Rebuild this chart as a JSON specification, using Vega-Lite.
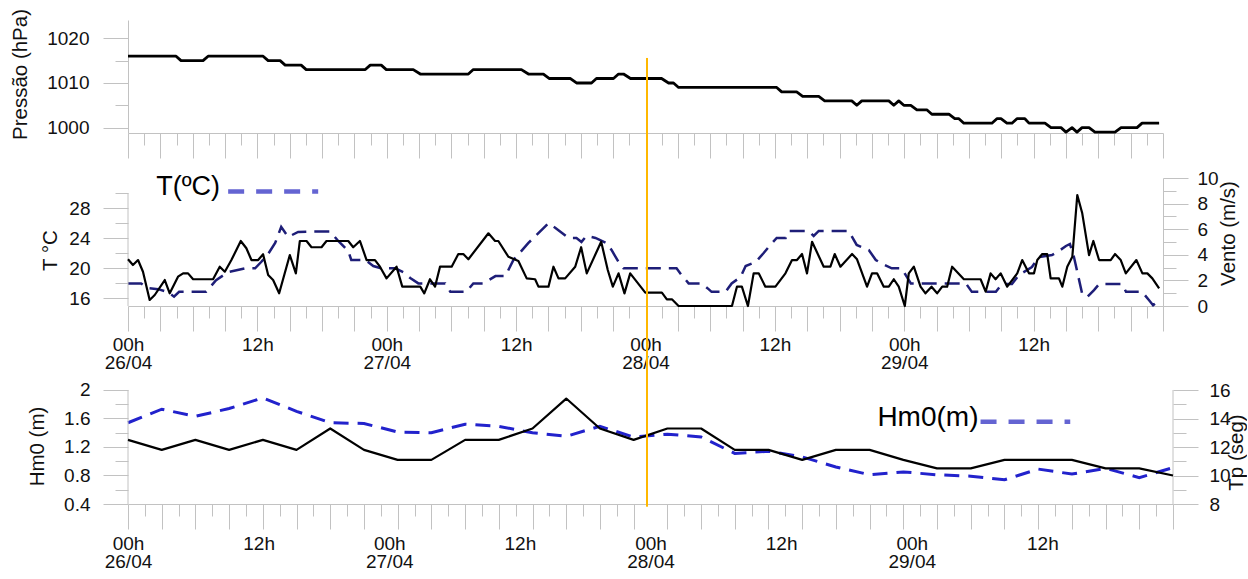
{
  "$schema": "https://vega.github.io/schema/vega-lite/v6.json",
  "background": "white",
  "padding": {"left": 10, "top": 8, "right": 0, "bottom": 0},
  "config": {
    "view": {"stroke": null},
    "font": "Liberation Sans",
    "axis": {
      "domainColor": "#c2c2c2", "tickColor": "#c2c2c2", "tickWidth": 1, "domainWidth": 1,
      "labelFont": "Liberation Sans", "labelFontSize": 19, "labelColor": "#111111",
      "titleFont": "Liberation Sans", "titleFontSize": 20.5, "titleFontWeight": "normal", "titleColor": "#111111",
      "grid": false, "labelOverlap": false, "labelFlush": false, "labelBound": false
    }
  },
  "datasets": {
    "pressure": [{"h":0,"p":1016},{"h":4.46,"p":1016},{"h":4.92,"p":1015},{"h":6.96,"p":1015},{"h":7.43,"p":1016},{"h":12.53,"p":1016},{"h":13.0,"p":1015},{"h":14.11,"p":1015},{"h":14.58,"p":1014},{"h":16.06,"p":1014},{"h":16.53,"p":1013},{"h":22.01,"p":1013},{"h":22.47,"p":1014},{"h":23.49,"p":1014},{"h":23.96,"p":1013},{"h":26.46,"p":1013},{"h":27.11,"p":1012},{"h":31.57,"p":1012},{"h":32.03,"p":1013},{"h":36.49,"p":1013},{"h":37.14,"p":1012},{"h":38.53,"p":1012},{"h":39.09,"p":1011},{"h":41.04,"p":1011},{"h":41.6,"p":1010},{"h":42.99,"p":1010},{"h":43.45,"p":1011},{"h":45.03,"p":1011},{"h":45.5,"p":1012},{"h":45.96,"p":1012},{"h":46.61,"p":1011},{"h":49.49,"p":1011},{"h":50.14,"p":1010},{"h":50.6,"p":1010},{"h":51.07,"p":1009},{"h":60.17,"p":1009},{"h":60.63,"p":1008},{"h":62.02,"p":1008},{"h":62.58,"p":1007},{"h":64.07,"p":1007},{"h":64.62,"p":1006},{"h":67.13,"p":1006},{"h":67.6,"p":1005},{"h":68.06,"p":1006},{"h":70.57,"p":1006},{"h":71.03,"p":1005},{"h":71.49,"p":1006},{"h":71.96,"p":1005},{"h":72.61,"p":1005},{"h":73.17,"p":1004},{"h":74.09,"p":1004},{"h":74.56,"p":1003},{"h":76.14,"p":1003},{"h":76.69,"p":1002},{"h":77.07,"p":1002},{"h":77.53,"p":1001},{"h":80.13,"p":1001},{"h":80.59,"p":1002},{"h":80.97,"p":1002},{"h":81.52,"p":1001},{"h":81.99,"p":1001},{"h":82.45,"p":1002},{"h":83.19,"p":1002},{"h":83.57,"p":1001},{"h":85.05,"p":1001},{"h":85.61,"p":1000},{"h":86.54,"p":1000},{"h":87.0,"p":999},{"h":87.56,"p":1000},{"h":88.02,"p":999},{"h":88.49,"p":1000},{"h":89.14,"p":1000},{"h":89.69,"p":999},{"h":91.55,"p":999},{"h":92.11,"p":1000},{"h":93.59,"p":1000},{"h":94.06,"p":1001},{"h":95.64,"p":1001}],
    "temp": [{"h":0,"T":18.0},{"h":1.21,"T":18.0},{"h":1.86,"T":17.37},{"h":2.79,"T":17.24},{"h":3.71,"T":16.84},{"h":4.27,"T":16.24},{"h":4.74,"T":16.88},{"h":7.24,"T":16.88},{"h":8.17,"T":18.44},{"h":9.29,"T":19.51},{"h":10.86,"T":20.0},{"h":11.79,"T":20.0},{"h":12.35,"T":20.84},{"h":13.0,"T":21.91},{"h":13.65,"T":23.37},{"h":14.21,"T":25.51},{"h":14.86,"T":24.17},{"h":15.78,"T":24.84},{"h":16.99,"T":24.88},{"h":18.76,"T":24.88},{"h":19.5,"T":23.64},{"h":20.43,"T":22.31},{"h":20.71,"T":21.11},{"h":22.01,"T":21.11},{"h":22.75,"T":20.31},{"h":23.49,"T":20.0},{"h":24.79,"T":20.0},{"h":25.53,"T":19.51},{"h":26.18,"T":18.71},{"h":26.93,"T":18.0},{"h":29.43,"T":18.0},{"h":29.9,"T":16.88},{"h":31.38,"T":16.88},{"h":32.03,"T":18.0},{"h":32.96,"T":18.0},{"h":34.08,"T":18.97},{"h":35.0,"T":18.97},{"h":35.75,"T":21.11},{"h":37.14,"T":23.37},{"h":39.0,"T":26.0},{"h":39.65,"T":25.37},{"h":40.85,"T":24.04},{"h":41.6,"T":24.04},{"h":42.06,"T":23.51},{"h":42.53,"T":24.31},{"h":43.36,"T":24.04},{"h":44.38,"T":23.37},{"h":44.85,"T":22.44},{"h":45.5,"T":20.84},{"h":45.96,"T":20.0},{"h":50.88,"T":20.0},{"h":51.35,"T":19.11},{"h":52.0,"T":18.0},{"h":53.2,"T":18.0},{"h":53.85,"T":17.24},{"h":54.13,"T":16.88},{"h":55.43,"T":16.88},{"h":55.99,"T":18.0},{"h":56.82,"T":18.84},{"h":57.29,"T":20.31},{"h":58.22,"T":20.84},{"h":58.96,"T":22.04},{"h":59.42,"T":22.84},{"h":60.17,"T":24.04},{"h":61.0,"T":24.04},{"h":61.28,"T":24.97},{"h":63.14,"T":24.97},{"h":63.6,"T":24.31},{"h":64.07,"T":24.97},{"h":66.85,"T":24.97},{"h":67.59,"T":23.11},{"h":68.24,"T":22.71},{"h":68.71,"T":22.44},{"h":69.36,"T":21.11},{"h":69.82,"T":20.71},{"h":70.84,"T":20.0},{"h":71.77,"T":20.0},{"h":72.14,"T":19.11},{"h":72.61,"T":18.0},{"h":77.72,"T":18.0},{"h":78.27,"T":16.88},{"h":80.5,"T":16.88},{"h":81.06,"T":17.91},{"h":81.99,"T":17.91},{"h":82.64,"T":19.11},{"h":83.84,"T":20.17},{"h":84.49,"T":21.51},{"h":85.7,"T":21.77},{"h":86.35,"T":22.31},{"h":87.0,"T":22.97},{"h":87.37,"T":23.24},{"h":87.74,"T":21.51},{"h":88.49,"T":16.71},{"h":88.95,"T":16.17},{"h":89.6,"T":17.11},{"h":90.07,"T":17.91},{"h":92.2,"T":17.91},{"h":92.57,"T":16.88},{"h":94.06,"T":16.88},{"h":94.71,"T":15.77},{"h":95.08,"T":15.11},{"h":95.64,"T":15.77}],
    "wind": [{"h":0,"W":3.65},{"h":0.46,"W":3.2},{"h":0.93,"W":3.59},{"h":1.39,"W":2.68},{"h":2.01,"W":0.47},{"h":2.48,"W":0.86},{"h":3.41,"W":2.03},{"h":3.87,"W":0.99},{"h":4.64,"W":2.29},{"h":5.11,"W":2.55},{"h":5.57,"W":2.55},{"h":6.04,"W":2.09},{"h":7.89,"W":2.09},{"h":8.51,"W":3.07},{"h":8.98,"W":2.68},{"h":9.59,"W":3.59},{"h":10.46,"W":5.08},{"h":10.98,"W":4.51},{"h":11.45,"W":3.59},{"h":12.07,"W":3.59},{"h":12.53,"W":4.04},{"h":13.0,"W":2.42},{"h":13.46,"W":2.03},{"h":14.02,"W":0.99},{"h":15.01,"W":3.98},{"h":15.57,"W":2.55},{"h":15.94,"W":5.08},{"h":16.56,"W":5.08},{"h":17.02,"W":4.59},{"h":17.95,"W":4.59},{"h":18.41,"W":5.08},{"h":20.43,"W":5.08},{"h":20.89,"W":4.59},{"h":21.51,"W":5.08},{"h":22.13,"W":3.59},{"h":22.91,"W":3.59},{"h":23.37,"W":3.07},{"h":23.98,"W":2.16},{"h":24.91,"W":3.07},{"h":25.44,"W":1.51},{"h":27.11,"W":1.51},{"h":27.48,"W":0.99},{"h":28.01,"W":2.09},{"h":28.48,"W":1.51},{"h":28.94,"W":3.07},{"h":30.02,"W":3.07},{"h":30.64,"W":4.06},{"h":31.1,"W":4.06},{"h":31.57,"W":3.65},{"h":33.43,"W":5.68},{"h":34.05,"W":5.08},{"h":34.35,"W":5.08},{"h":35.28,"W":3.85},{"h":36.21,"W":3.52},{"h":36.98,"W":2.16},{"h":37.76,"W":2.09},{"h":38.07,"W":1.51},{"h":39.0,"W":1.51},{"h":39.46,"W":3.07},{"h":39.93,"W":2.16},{"h":40.55,"W":2.16},{"h":41.48,"W":3.07},{"h":42.03,"W":4.59},{"h":42.55,"W":2.55},{"h":43.89,"W":5.02},{"h":44.5,"W":2.81},{"h":44.97,"W":1.51},{"h":45.5,"W":2.55},{"h":46.05,"W":0.99},{"h":46.58,"W":2.55},{"h":47.98,"W":1.04},{"h":49.52,"W":1.04},{"h":49.98,"W":0.52},{"h":50.45,"W":0.52},{"h":51.07,"W":0},{"h":56.02,"W":0},{"h":56.48,"W":1.51},{"h":56.94,"W":1.51},{"h":57.5,"W":0},{"h":58.03,"W":2.55},{"h":58.5,"W":2.55},{"h":59.12,"W":1.51},{"h":60.05,"W":1.51},{"h":60.98,"W":2.55},{"h":61.59,"W":3.59},{"h":62.05,"W":3.59},{"h":62.52,"W":4.06},{"h":62.98,"W":2.55},{"h":63.45,"W":5.02},{"h":64.53,"W":3.07},{"h":65.15,"W":3.07},{"h":65.55,"W":4.06},{"h":66.08,"W":3.07},{"h":67.16,"W":4.06},{"h":67.62,"W":3.65},{"h":68.55,"W":1.51},{"h":69.01,"W":2.55},{"h":69.48,"W":2.55},{"h":70.1,"W":1.51},{"h":70.57,"W":1.51},{"h":71.03,"W":2.09},{"h":71.49,"W":1.51},{"h":72.05,"W":0},{"h":72.42,"W":2.55},{"h":72.89,"W":3.07},{"h":73.51,"W":1.51},{"h":73.97,"W":0.99},{"h":74.53,"W":1.51},{"h":75.05,"W":0.99},{"h":75.52,"W":1.51},{"h":75.98,"W":1.51},{"h":76.44,"W":3.07},{"h":77.53,"W":2.09},{"h":79.08,"W":2.09},{"h":79.55,"W":1.12},{"h":80.01,"W":2.55},{"h":80.47,"W":2.09},{"h":80.94,"W":2.55},{"h":81.55,"W":1.51},{"h":82.48,"W":2.55},{"h":82.94,"W":3.59},{"h":83.57,"W":2.55},{"h":84.03,"W":2.55},{"h":84.34,"W":3.59},{"h":84.8,"W":4.06},{"h":85.26,"W":4.06},{"h":85.58,"W":2.16},{"h":86.35,"W":2.16},{"h":86.66,"W":1.51},{"h":87.12,"W":3.07},{"h":87.59,"W":3.85},{"h":88.05,"W":8.67},{"h":88.51,"W":7.24},{"h":89.14,"W":3.98},{"h":89.54,"W":5.08},{"h":90.07,"W":3.59},{"h":91.15,"W":3.59},{"h":91.55,"W":4.06},{"h":92.08,"W":3.59},{"h":92.55,"W":2.55},{"h":93.53,"W":3.59},{"h":94.09,"W":2.55},{"h":94.55,"W":2.55},{"h":95.01,"W":2.16},{"h":95.64,"W":1.38}],
    "waves": [{"h":0,"hm0":1.54,"tp":12.5},{"h":3.1,"hm0":1.73,"tp":11.8},{"h":6.19,"hm0":1.63,"tp":12.5},{"h":9.29,"hm0":1.74,"tp":11.8},{"h":12.39,"hm0":1.89,"tp":12.5},{"h":15.48,"hm0":1.7,"tp":11.8},{"h":18.58,"hm0":1.54,"tp":13.3},{"h":21.68,"hm0":1.53,"tp":11.8},{"h":24.77,"hm0":1.41,"tp":11.1},{"h":27.87,"hm0":1.4,"tp":11.1},{"h":30.97,"hm0":1.52,"tp":12.5},{"h":34.06,"hm0":1.49,"tp":12.5},{"h":37.16,"hm0":1.4,"tp":13.3},{"h":40.26,"hm0":1.35,"tp":15.4},{"h":43.35,"hm0":1.49,"tp":13.3},{"h":46.45,"hm0":1.34,"tp":12.5},{"h":49.55,"hm0":1.38,"tp":13.3},{"h":52.65,"hm0":1.34,"tp":13.3},{"h":55.74,"hm0":1.11,"tp":11.8},{"h":58.84,"hm0":1.14,"tp":11.8},{"h":61.94,"hm0":1.06,"tp":11.1},{"h":65.03,"hm0":0.92,"tp":11.8},{"h":68.13,"hm0":0.81,"tp":11.8},{"h":71.23,"hm0":0.85,"tp":11.1},{"h":74.32,"hm0":0.81,"tp":10.5},{"h":77.42,"hm0":0.79,"tp":10.5},{"h":80.52,"hm0":0.74,"tp":11.1},{"h":83.61,"hm0":0.89,"tp":11.1},{"h":86.71,"hm0":0.82,"tp":11.1},{"h":89.81,"hm0":0.9,"tp":10.5},{"h":92.9,"hm0":0.77,"tp":10.5},{"h":96.0,"hm0":0.91,"tp":10.0}]
  },
  "spacing": 45,
  "bounds": "flush",
  "vconcat": [
    {
      "width": 1035,
      "height": 113,
      "encoding": {
        "x": {
          "field": "h", "type": "quantitative",
          "scale": {"domain": [0, 96], "nice": false, "zero": false},
          "axis": {
            "values": [0,1.5,3,4.5,6,7.5,9,10.5,12,13.5,15,16.5,18,19.5,21,22.5,24,25.5,27,28.5,30,31.5,33,34.5,36,37.5,39,40.5,42,43.5,45,46.5,48,49.5,51,52.5,54,55.5,57,58.5,60,61.5,63,64.5,66,67.5,69,70.5,72,73.5,75,76.5,78,79.5,81,82.5,84,85.5,87,88.5,90,91.5,93,94.5,96],
            "labels": false, "title": null, "labelOverlap": false,
            "tickSize": {"condition": {"test": "datum.value % 3 != 0", "value": 12}, "value": 25}
          }
        },
        "y": {
          "field": "p", "type": "quantitative",
          "scale": {"domain": [998.8, 1024.1], "nice": false, "zero": false},
          "axis": {
            "values": [1000, 1005, 1010, 1015, 1020],
            "title": "Pressão (hPa)",
            "labelOverlap": false,
            "labelExpr": "datum.value % 10 == 0 ? format(datum.value, 'd') : ''",
            "tickSize": {"condition": {"test": "datum.value % 10 != 0", "value": 13}, "value": 25},
            "labelPadding": 14,
            "titleAngle": 270, "titleBaseline": "middle", "titleAlign": "center",
            "titleX": -108, "titleY": 54
          }
        }
      },
      "layer": [
        {
          "data": {"name": "pressure"},
          "mark": {"type": "line", "color": "#000000", "strokeWidth": 2.8, "strokeJoin": "round"}
        },
        {
          "data": {"values": [{"h": 48.14, "p": 1015.6, "p2": 988.7}]},
          "mark": {"type": "rule", "color": "#ffb800", "strokeWidth": 2},
          "encoding": {"y2": {"field": "p2"}}
        }
      ]
    },
    {
      "width": 1035,
      "height": 128,
      "encoding": {
        "x": {
          "field": "h", "type": "quantitative",
          "scale": {"domain": [0, 96], "nice": false, "zero": false},
          "axis": {
            "values": [0,1.5,3,4.5,6,7.5,9,10.5,12,13.5,15,16.5,18,19.5,21,22.5,24,25.5,27,28.5,30,31.5,33,34.5,36,37.5,39,40.5,42,43.5,45,46.5,48,49.5,51,52.5,54,55.5,57,58.5,60,61.5,63,64.5,66,67.5,69,70.5,72,73.5,75,76.5,78,79.5,81,82.5,84,85.5,87,88.5,90,91.5,93,94.5,96],
            "title": null,
            "labelOverlap": false,
            "labelPadding": 4,
            "labelLineHeight": 18.5,
            "labelExpr": "datum.value % 24 == 0 && datum.value < 96 ? ['00h', (26 + datum.value / 24) + '/04'] : (datum.value % 12 == 0 && datum.value < 96 ? '12h' : '')",
            "tickSize": {"condition": {"test": "datum.value % 3 != 0", "value": 12}, "value": 25}
          }
        }
      },
      "layer": [
        {
          "encoding": {
            "y": {
              "field": "T", "type": "quantitative",
              "scale": {"domain": [15, 32], "nice": false, "zero": false},
              "axis": {
                "values": [16, 18, 20, 22, 24, 26, 28, 30],
                "domain": false,
                "title": "T °C",
                "labelOverlap": false,
                "labelExpr": "datum.value % 4 == 0 ? datum.label : ''",
                "tickSize": {"condition": {"test": "datum.value % 4 != 0", "value": 13}, "value": 25},
                "labelPadding": 13,
                "titleAngle": 270, "titleBaseline": "middle", "titleAlign": "center",
                "titleX": -78, "titleY": 72
              }
            }
          },
          "layer": [
            {
              "data": {"name": "temp"},
              "mark": {"type": "line", "color": "#1e1e78", "strokeWidth": 2.5, "strokeDash": [15, 8]}
            },
            {
              "data": {"values": [{"h": 0, "T": 15, "T2": 30}]},
              "mark": {"type": "rule", "color": "#c2c2c2", "strokeWidth": 1},
              "encoding": {"y2": {"field": "T2"}}
            },
            {
              "data": {"values": [{"h": 9.29, "h2": 17.64, "T": 30.2}]},
              "mark": {"type": "rule", "color": "#6464d2", "strokeWidth": 4.5, "strokeDash": [16, 12]},
              "encoding": {"x2": {"field": "h2"}}
            },
            {
              "data": {"values": [{"h": 8.54, "T": 30.8, "label": "T(ºC)"}]},
              "mark": {"type": "text", "align": "right", "baseline": "middle", "fontSize": 27, "font": "Liberation Sans", "color": "#000000"},
              "encoding": {"text": {"field": "label"}}
            }
          ]
        },
        {
          "encoding": {
            "y": {
              "field": "W", "type": "quantitative",
              "scale": {"domain": [0, 10], "nice": false, "zero": false},
              "axis": {
                "orient": "right",
                "values": [0, 1, 2, 3, 4, 5, 6, 7, 8, 9, 10],
                "title": "Vento (m/s)",
                "labelOverlap": false,
                "labelExpr": "datum.value % 2 == 0 ? datum.label : ''",
                "tickSize": {"condition": {"test": "datum.value % 2 != 0", "value": 13}, "value": 25},
                "labelPadding": 9,
                "titleAngle": 270, "titleBaseline": "middle", "titleAlign": "center",
                "titleX": 65, "titleY": 55
              }
            }
          },
          "layer": [
            {
              "data": {"name": "wind"},
              "mark": {"type": "line", "color": "#000000", "strokeWidth": 2.2, "strokeJoin": "round"}
            },
            {
              "data": {"values": [{"h": 48.14, "W": 10, "W2": -3.52}]},
              "mark": {"type": "rule", "color": "#ffb800", "strokeWidth": 2},
              "encoding": {"y2": {"field": "W2"}}
            }
          ]
        }
      ],
      "resolve": {"scale": {"y": "independent"}}
    },
    {
      "width": 1045,
      "height": 153,
      "encoding": {
        "x": {
          "field": "h", "type": "quantitative",
          "scale": {"domain": [0, 96], "nice": false, "zero": false},
          "axis": {
            "values": [0,1.5484,3.0968,4.6452,6.1935,7.7419,9.2903,10.8387,12,12.3871,13.9355,15.4839,17.0323,18.5806,20.129,21.6774,23.2258,24,24.7742,26.3226,27.871,29.4194,30.9677,32.5161,34.0645,35.6129,36,37.1613,38.7097,40.2581,41.8065,43.3548,44.9032,46.4516,48,49.5484,51.0968,52.6452,54.1935,55.7419,57.2903,58.8387,60,60.3871,61.9355,63.4839,65.0323,66.5806,68.129,69.6774,71.2258,72,72.7742,74.3226,75.871,77.4194,78.9677,80.5161,82.0645,83.6129,84,85.1613,86.7097,88.2581,89.8065,91.3548,92.9032,94.4516,96],
            "title": null,
            "labelOverlap": false,
            "labelPadding": 5,
            "labelLineHeight": 18.5,
            "labelExpr": "datum.value % 24 == 0 && datum.value < 96 ? ['00h', (26 + datum.value / 24) + '/04'] : (datum.value % 12 == 0 && datum.value < 96 ? '12h' : '')",
            "tickSize": {"condition": {"test": "abs(datum.value * 31 / 96 - floor(datum.value * 31 / 96) - 0.5) < 0.01 && datum.value != 48", "value": 12}, "value": 25},
            "tickOpacity": {"condition": {"test": "datum.value % 12 == 0 && datum.value > 0 && datum.value < 96", "value": 0}, "value": 1}
          }
        }
      },
      "layer": [
        {
          "encoding": {
            "y": {
              "field": "hm0", "type": "quantitative",
              "scale": {"domain": [0.4, 2.547], "nice": false, "zero": false},
              "axis": {
                "values": [0.4, 0.6, 0.8, 1.0, 1.2, 1.4, 1.6, 1.8, 2.0],
                "domain": false,
                "title": "Hm0 (m)",
                "labelOverlap": false,
                "labelExpr": "round(datum.value * 10) % 4 == 0 ? format(datum.value, '.1~f') : ''",
                "tickSize": {"condition": {"test": "round(datum.value * 10) % 4 != 0", "value": 13}, "value": 25},
                "labelPadding": 13,
                "titleAngle": 270, "titleBaseline": "middle", "titleAlign": "center",
                "titleX": -91, "titleY": 95
              }
            }
          },
          "layer": [
            {
              "data": {"name": "waves"},
              "mark": {"type": "line", "color": "#2222cc", "strokeWidth": 3, "strokeDash": [15, 9]}
            },
            {
              "data": {"values": [{"h": 0, "hm0": 0.4, "hm02": 2.0}, {"h": 96, "hm0": 0.4, "hm02": 2.0}]},
              "mark": {"type": "rule", "color": "#c2c2c2", "strokeWidth": 1},
              "encoding": {"y2": {"field": "hm02"}}
            },
            {
              "data": {"values": [{"h": 78.32, "h2": 86.56, "hm0": 1.555}]},
              "mark": {"type": "rule", "color": "#6464d2", "strokeWidth": 4.5, "strokeDash": [16, 12]},
              "encoding": {"x2": {"field": "h2"}}
            },
            {
              "data": {"values": [{"h": 78.13, "hm0": 1.607, "label": "Hm0(m)"}]},
              "mark": {"type": "text", "align": "right", "baseline": "middle", "fontSize": 28, "font": "Liberation Sans", "color": "#000000"},
              "encoding": {"text": {"field": "label"}}
            }
          ]
        },
        {
          "encoding": {
            "y": {
              "field": "tp", "type": "quantitative",
              "scale": {"domain": [8, 18.737], "nice": false, "zero": false},
              "axis": {
                "orient": "right",
                "values": [8, 9, 10, 11, 12, 13, 14, 15, 16],
                "domain": false,
                "title": "Tp (seg)",
                "labelOverlap": false,
                "labelExpr": "datum.value % 2 == 0 ? datum.label : ''",
                "tickSize": {"condition": {"test": "datum.value % 2 != 0", "value": 13}, "value": 25},
                "labelPadding": 11,
                "titleAngle": 270, "titleBaseline": "middle", "titleAlign": "center",
                "titleX": 63, "titleY": 101
              }
            }
          },
          "layer": [
            {
              "data": {"name": "waves"},
              "mark": {"type": "line", "color": "#000000", "strokeWidth": 2.2, "strokeJoin": "round"}
            },
            {
              "data": {"values": [{"h": 47.68, "tp": 18.737, "tp2": 7.81}]},
              "mark": {"type": "rule", "color": "#ffb800", "strokeWidth": 2},
              "encoding": {"y2": {"field": "tp2"}}
            }
          ]
        }
      ],
      "resolve": {"scale": {"y": "independent"}}
    }
  ]
}
